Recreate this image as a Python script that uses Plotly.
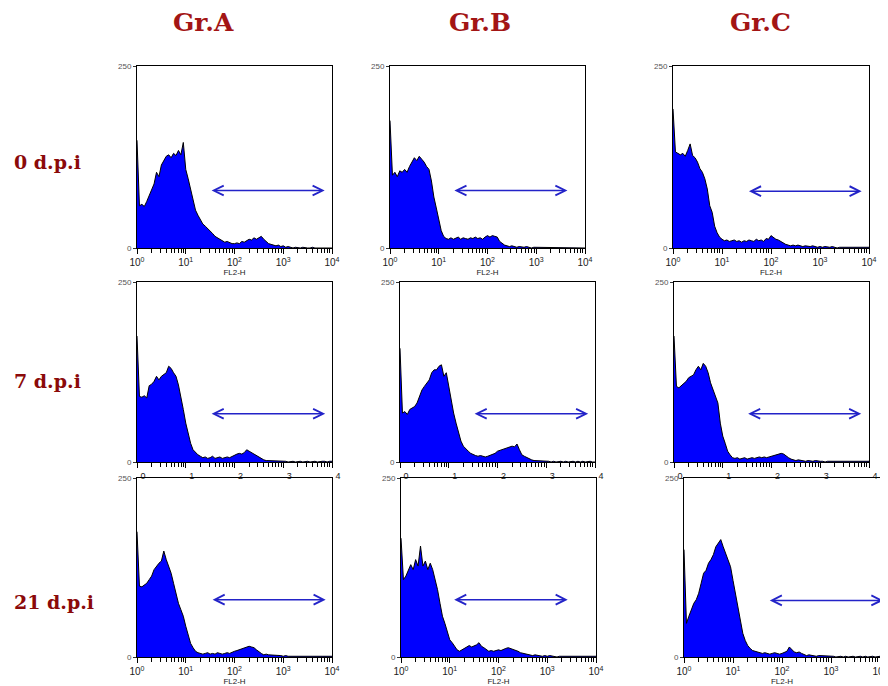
import plotly.graph_objects as go

# ---------------- data ----------------
BIN = 0.05  # channel width in decades (log10)
groups = ["Gr.A", "Gr.B", "Gr.C"]
days = ["0 d.p.i", "7 d.p.i", "21 d.p.i"]

# histogram counts (80 channels from 10^0 to 10^4), row-major: day x group
counts_0_A = [148, 58, 60, 57, 64, 72, 80, 88, 104, 98, 114, 120, 126, 128, 124, 130, 127, 134, 128, 145,
              108, 95, 80, 68, 52, 45, 38, 33, 30, 27, 24, 20, 16, 14, 12, 10, 8, 9, 7, 6,
              6, 7, 6, 9, 8, 10, 12, 11, 14, 12, 14, 16, 12, 9, 6, 5, 4, 3, 4, 2,
              3, 1, 2, 1, 0, 1, 0, 0, 1, 0, 0, 0, 1, 0, 0, 0, 0, 1, 0, 0]
counts_0_B = [175, 100, 104, 98, 106, 104, 108, 104, 112, 118, 124, 120, 126, 122, 118, 112, 108, 92, 70, 55,
              40, 24, 16, 13, 12, 14, 12, 13, 15, 12, 14, 13, 12, 14, 13, 15, 13, 14, 12, 15,
              17, 15, 17, 16, 15, 9, 6, 4, 3, 2, 3, 2, 1, 2, 1, 1, 2, 1, 0, 1,
              1, 0, 1, 0, 0, 1, 0, 0, 1, 0, 0, 1, 0, 0, 0, 1, 0, 0, 1, 0]
counts_0_C = [191, 132, 130, 128, 130, 126, 134, 143, 127, 124, 118, 109, 104, 95, 81, 58, 49, 30, 21, 15,
              12, 10, 11, 9, 10, 11, 9, 10, 8, 10, 9, 11, 10, 9, 12, 10, 11, 9, 13, 12,
              17, 14, 12, 11, 9, 6, 5, 4, 3, 4, 3, 4, 3, 2, 3, 2, 2, 3, 2, 1,
              2, 1, 2, 1, 1, 2, 1, 0, 1, 1, 0, 1, 1, 0, 1, 0, 1, 1, 0, 1]
counts_7_A = [175, 91, 90, 92, 89, 106, 108, 112, 119, 114, 119, 122, 124, 133, 130, 124, 119, 107, 91, 73,
              54, 40, 26, 17, 13, 10, 8, 6, 7, 5, 6, 8, 5, 6, 7, 5, 6, 7, 6, 8,
              10, 11, 12, 11, 13, 17, 15, 13, 10, 8, 6, 4, 3, 2, 2, 1, 2, 1, 1, 2,
              1, 1, 0, 1, 1, 0, 1, 1, 0, 1, 1, 0, 1, 1, 0, 1, 1, 1, 0, 1]
counts_7_B = [158, 68, 70, 66, 73, 75, 77, 82, 91, 100, 105, 110, 114, 124, 128, 128, 133, 135, 119, 124,
              105, 82, 68, 54, 40, 29, 22, 18, 15, 12, 10, 9, 8, 9, 8, 7, 8, 9, 10, 12,
              15, 16, 17, 18, 19, 20, 22, 21, 25, 17, 10, 8, 6, 4, 3, 2, 2, 1, 2, 1,
              1, 1, 0, 1, 0, 1, 1, 0, 1, 0, 1, 1, 0, 1, 0, 1, 0, 1, 1, 0]
counts_7_C = [175, 105, 103, 106, 110, 112, 117, 119, 121, 128, 133, 128, 137, 133, 124, 110, 100, 91, 82, 54,
              36, 26, 15, 10, 6, 5, 6, 4, 5, 6, 4, 5, 6, 5, 6, 7, 6, 7, 6, 7,
              8, 9, 10, 11, 12, 11, 8, 6, 4, 3, 2, 3, 2, 2, 1, 2, 1, 1, 2, 1,
              1, 1, 0, 1, 1, 0, 1, 1, 0, 1, 0, 1, 1, 0, 1, 1, 0, 1, 0, 1]
counts_21_A = [175, 99, 98, 100, 103, 108, 113, 122, 127, 131, 134, 148, 136, 127, 117, 103, 89, 75, 66, 57,
               43, 29, 19, 13, 8, 6, 5, 4, 5, 6, 4, 5, 4, 6, 5, 4, 5, 6, 5, 7,
               8, 9, 10, 11, 13, 14, 15, 14, 13, 10, 7, 5, 3, 4, 3, 3, 2, 3, 2, 2,
               1, 2, 1, 1, 0, 1, 1, 0, 1, 1, 0, 1, 0, 1, 1, 0, 1, 0, 1, 1]
counts_21_B = [166, 108, 113, 122, 129, 122, 136, 127, 155, 127, 134, 122, 131, 122, 108, 94, 75, 57, 47, 34,
               24, 20, 15, 10, 8, 10, 12, 14, 16, 14, 15, 17, 20, 15, 13, 10, 8, 9, 8, 9,
               10, 9, 11, 12, 13, 12, 11, 10, 8, 6, 5, 4, 3, 3, 2, 3, 2, 2, 1, 2,
               1, 2, 1, 1, 0, 1, 1, 1, 0, 1, 1, 0, 1, 1, 0, 1, 1, 0, 1, 1]
counts_21_C = [150, 47, 57, 66, 75, 80, 89, 103, 117, 121, 131, 136, 143, 154, 159, 164, 154, 145, 136, 126,
               107, 89, 70, 51, 33, 23, 16, 12, 9, 8, 7, 6, 5, 6, 5, 4, 5, 6, 5, 4,
               5, 6, 8, 14, 10, 7, 6, 7, 5, 4, 2, 3, 2, 2, 1, 2, 2, 1, 1, 2,
               1, 1, 0, 1, 1, 0, 1, 0, 1, 1, 0, 1, 1, 0, 1, 0, 1, 1, 0, 1]

# marker gate (M1) per panel: start / end in log10 units, and height in counts
gate_start = [1.50, 1.29, 1.52, 1.50, 1.50, 1.49, 1.52, 1.06, 1.72]
gate_end = [3.85, 3.64, 3.85, 3.86, 3.86, 3.84, 3.87, 3.42, 4.07]
gate_y = [79, 79, 78, 67, 67, 67, 80, 80, 79]

major_ticks = [1, 10, 100, 1000, 10000]
major_labels = ["10<sup>0</sup>", "10<sup>1</sup>", "10<sup>2</sup>", "10<sup>3</sup>", "10<sup>4</sup>"]
exp_labels = ["0", "1", "2", "3", "4"]
y_ticks = [0, 250]
y_labels = ["0", "250"]

all_counts = [counts_0_A, counts_0_B, counts_0_C,
              counts_7_A, counts_7_B, counts_7_C,
              counts_21_A, counts_21_B, counts_21_C]

# ---------------- layout geometry (window pixels) ----------------
W, H = 888, 686
OFF = 8  # the page body margin shifts the figure by this many pixels
panel_x = [(137, 332), (390, 585), (673, 869),
           (137, 332), (400, 595), (674, 869),
           (137, 332), (401, 596), (684, 880)]
row_y = [(66, 248), (282, 462), (478, 657)]


def fx(px):
    return (px - OFF) / W


def fy(py):
    return 1 - (py - OFF) / H


minor_vals = [m * 10 ** e for e in range(4) for m in range(2, 10)]

fig = go.Figure()
layout = dict(width=W, height=H, margin=dict(l=0, r=0, t=0, b=0, autoexpand=False),
              paper_bgcolor="white", plot_bgcolor="white", showlegend=False)
annotations = []

for k in range(9):
    r, c = divmod(k, 3)
    n = "" if k == 0 else str(k + 1)
    counts = all_counts[k]
    xs = [10 ** (i * BIN) for i in range(len(counts) + 1)]
    ys = counts + [counts[-1]]
    fig.add_trace(go.Scatter(x=xs, y=ys, mode="lines",
                             line=dict(color="black", width=1, shape="linear"),
                             fill="tozeroy", fillcolor="#0000ff",
                             xaxis="x" + n, yaxis="y" + n, hoverinfo="skip"))
    x0, x1 = panel_x[k]
    yt, yb = row_y[r]
    xa = dict(domain=[fx(x0), fx(x1)], anchor="y" + n, type="log", range=[0, 4],
              tickvals=major_ticks, ticks="outside", ticklen=5, tickcolor="black",
              showline=True, mirror=True, linecolor="black", linewidth=1,
              showgrid=False, zeroline=False, automargin=False,
              minor=dict(tickvals=minor_vals, ticks="outside", ticklen=4,
                         tickcolor="black", showgrid=False),
              tickfont=dict(family="Liberation Sans, Arial", size=10, color="#222"))
    if r == 1:
        xa.update(ticktext=exp_labels, ticklabelshift=6,
                  tickfont=dict(family="Liberation Sans, Arial", size=9, color="#222"))
    else:
        xa.update(ticktext=major_labels,
                  title=dict(text="FL2-H", standoff=1,
                             font=dict(family="Liberation Sans, Arial", size=8, color="#222")))
    ya = dict(domain=[fy(yb), fy(yt)], anchor="x" + n, range=[0, 250],
              tickvals=y_ticks, ticktext=y_labels, ticks="outside", ticklen=3,
              tickcolor="#333", showline=True, mirror=True, linecolor="black",
              linewidth=1, showgrid=False, zeroline=False, automargin=False,
              tickfont=dict(family="Liberation Sans, Arial", size=8, color="#555"))
    layout["xaxis" + n] = xa
    layout["yaxis" + n] = ya
    annotations.append(dict(x=gate_end[k], y=gate_y[k], ax=gate_start[k], ay=gate_y[k],
                            xref="x" + n, yref="y" + n, axref="x" + n, ayref="y" + n,
                            text="", showarrow=True, arrowside="end+start",
                            arrowhead=5, startarrowhead=5, arrowsize=1.3,
                            startarrowsize=1.3, arrowwidth=1.5, arrowcolor="#2323c8",
                            standoff=0, startstandoff=0))

header_x = [203, 480, 760]
for g, hx in zip(groups, header_x):
    annotations.append(dict(text="<b>" + g + "</b>", x=fx(hx), y=fy(22),
                            xref="paper", yref="paper", showarrow=False,
                            xanchor="center", yanchor="middle",
                            font=dict(family="DejaVu Serif", size=25, color="#a31515")))
row_label_y = [162, 381, 602]
for d, ry in zip(days, row_label_y):
    annotations.append(dict(text="<b>" + d + "</b>", x=fx(12), y=fy(ry),
                            xref="paper", yref="paper", showarrow=False,
                            xanchor="left", yanchor="middle",
                            font=dict(family="DejaVu Serif", size=19, color="#8b0a0a")))

layout["annotations"] = annotations
fig.update_layout(**layout)
fig.write_html("out.html")
